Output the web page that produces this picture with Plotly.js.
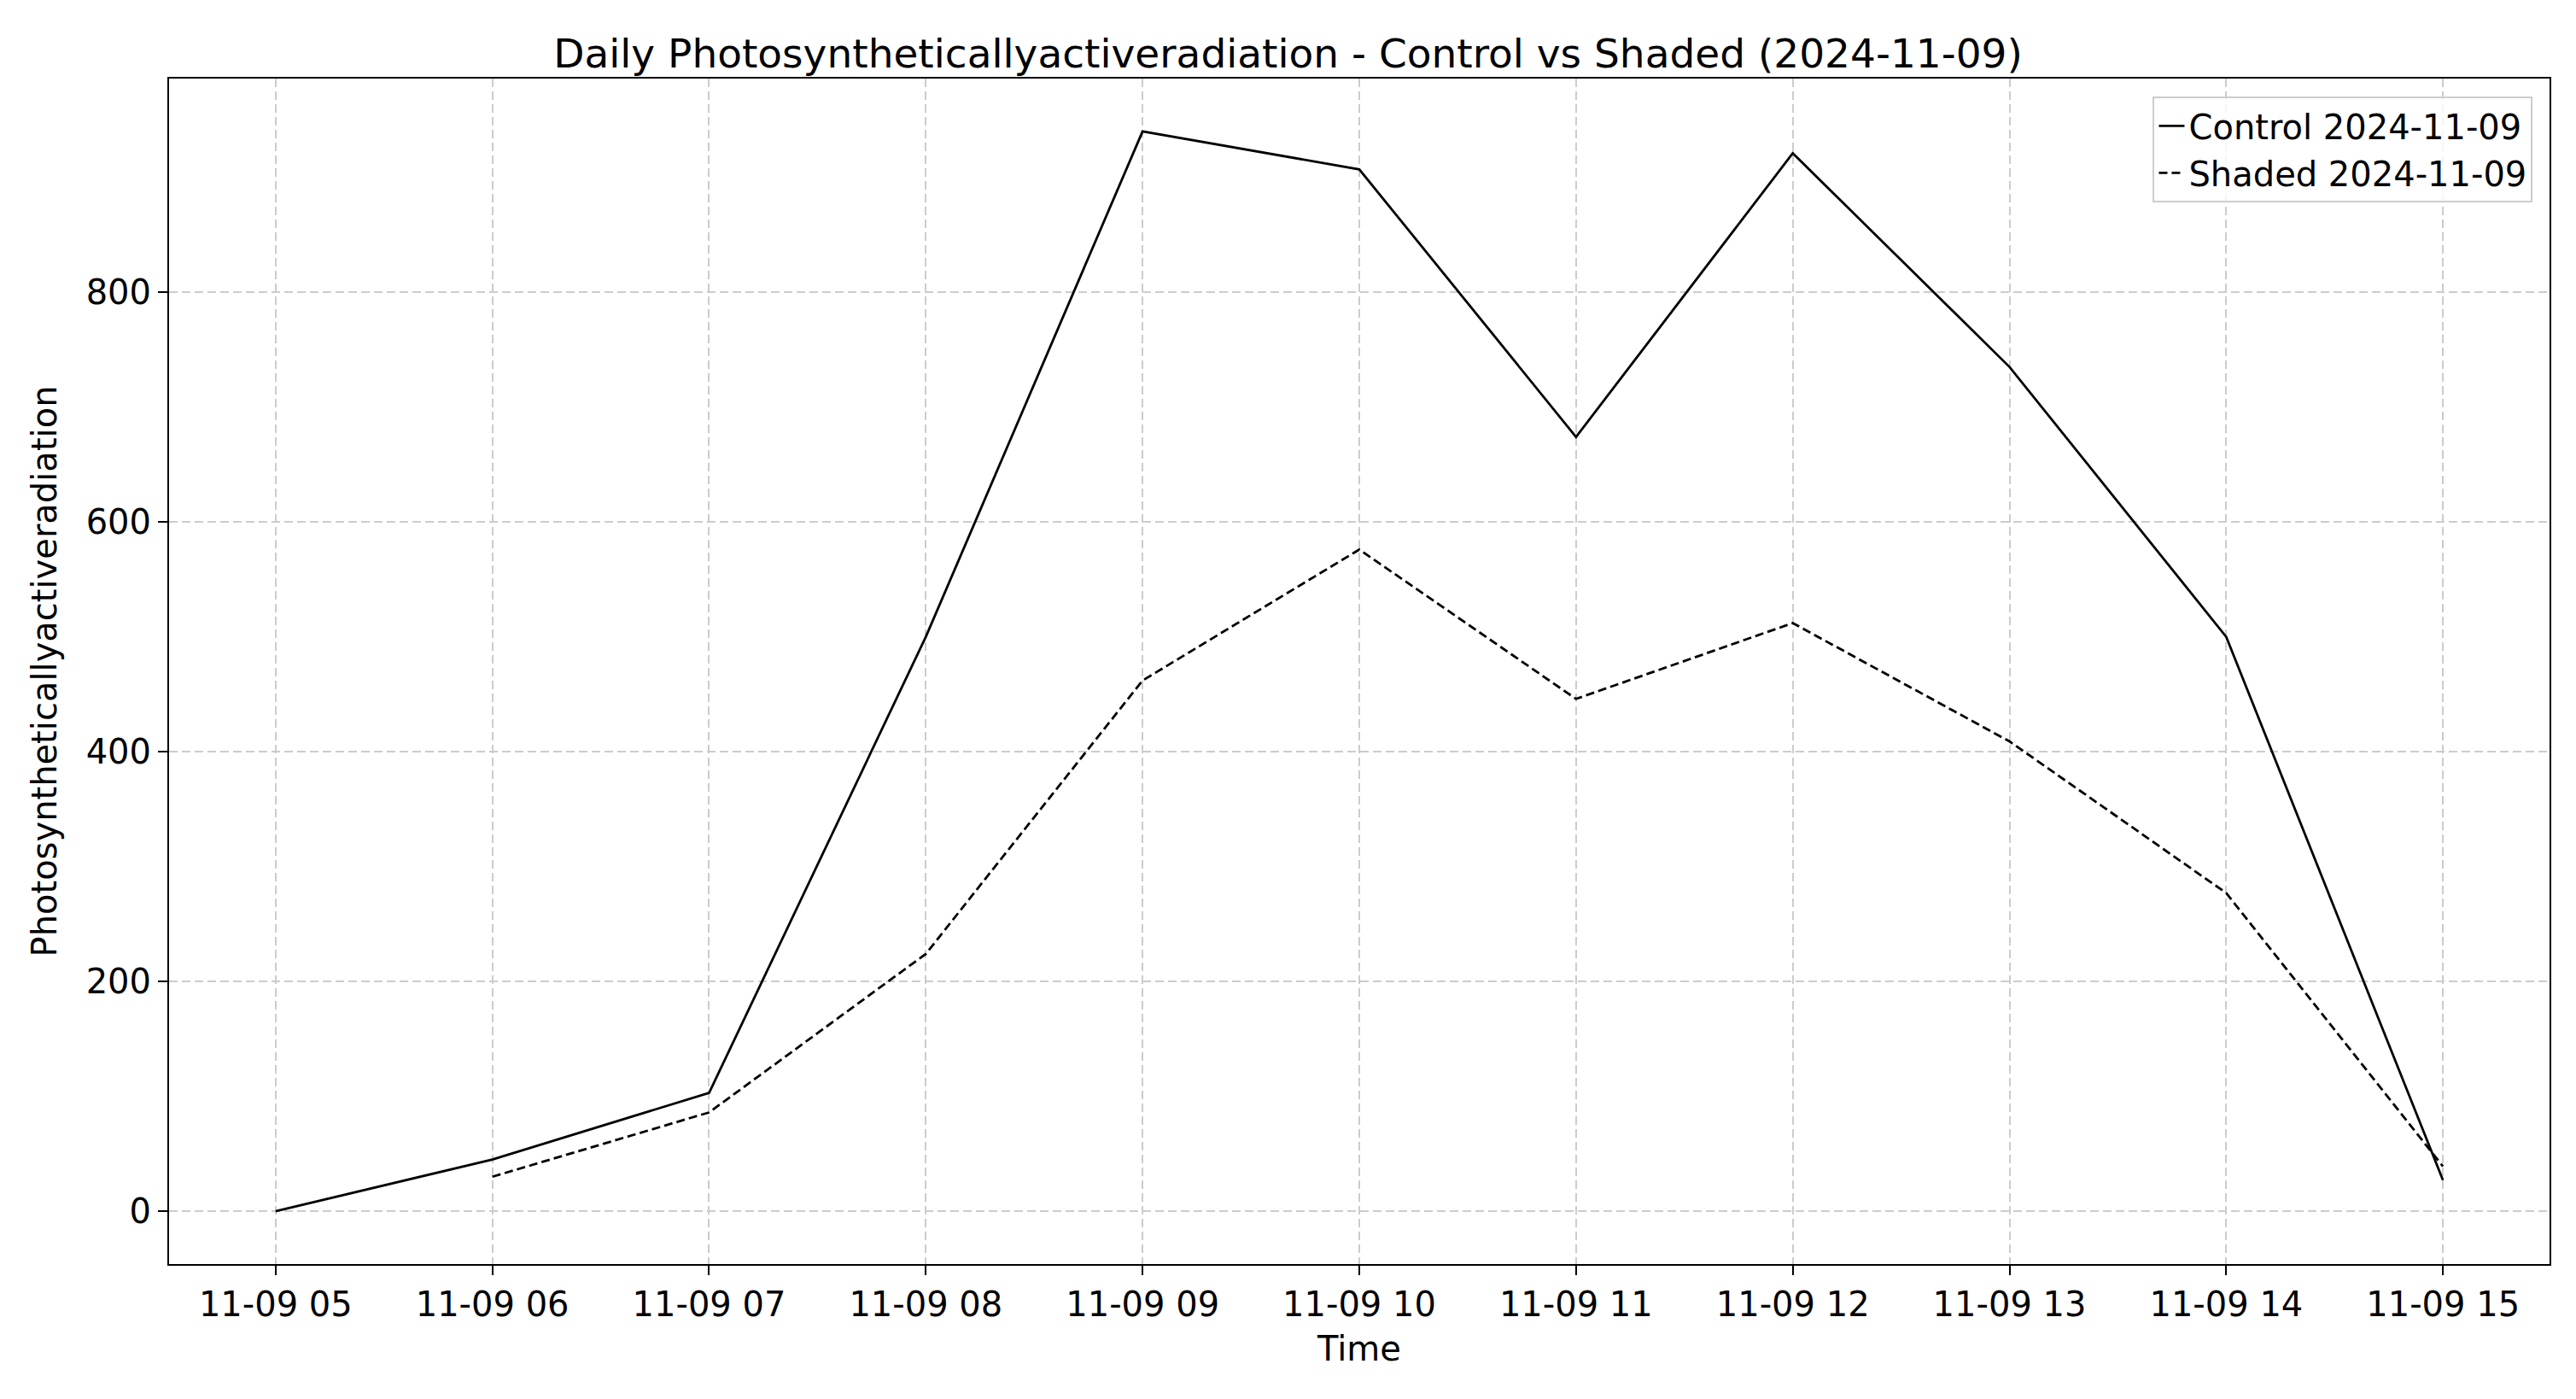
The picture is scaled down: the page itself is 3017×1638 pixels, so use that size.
<!DOCTYPE html>
<html>
<head>
<meta charset="utf-8">
<script src="https://cdn.plot.ly/plotly-3.0.1.min.js"></script>
<style>html,body{margin:0;padding:0;background:#fff}#chart{width:3017px;height:1638px}</style>
</head>
<body>
<div id="chart"></div>
<script>
// данные с графика
const controlTimes = ['2024-11-09 05:00','2024-11-09 06:00','2024-11-09 07:00','2024-11-09 08:00','2024-11-09 09:00','2024-11-09 10:00','2024-11-09 11:00','2024-11-09 12:00','2024-11-09 13:00','2024-11-09 14:00','2024-11-09 15:00'];
const controlValues = [0, 45, 103, 500, 940, 907, 674, 921, 735, 500, 27];
const shadedTimes = controlTimes.slice(1);
const shadedValues = [30, 86, 224, 462, 576, 446, 512, 409, 277, 39];

const F = 'DejaVu Sans, sans-serif';
const FS = 40;

const traces = [
    {x: controlTimes, y: controlValues, mode: 'lines', name: 'Control 2024-11-09',
     line: {color: '#000', width: 2.8}},
    {x: shadedTimes, y: shadedValues, mode: 'lines', name: 'Shaded 2024-11-09',
     line: {color: '#000', width: 2.8, dash: '10px,5px'}}
];

const axisCommon = {
    showline: true, mirror: true, linecolor: '#000', linewidth: 2,
    ticks: 'outside', ticklen: 11, tickwidth: 2, tickcolor: '#000',
    gridcolor: '#cccccc', griddash: '10px,5px', gridwidth: 1.5,
    zeroline: false, tickfont: {family: F, size: FS, color: '#000'}
};

const layout = {
    title: {text: 'Daily Photosyntheticallyactiveradiation - Control vs Shaded (2024-11-09)',
            font: {family: F, size: 47, color: '#000'}, x: 0.5, xanchor: 'center', y: 0.972},
    xaxis: Object.assign({}, axisCommon, {
        type: 'date', range: ['2024-11-09 04:30:30', '2024-11-09 15:29:30'],
        tickvals: controlTimes, tickformat: '%m-%d %H',
        title: {text: 'Time', font: {family: F, size: FS, color: '#000'}, standoff: 16}
    }),
    yaxis: Object.assign({}, axisCommon, {
        range: [-46, 986], tickvals: [0, 200, 400, 600, 800],
        title: {text: 'Photosyntheticallyactiveradiation', font: {family: F, size: FS, color: '#000'}, standoff: 22}
    }),
    legend: {x: 0.993, y: 0.985, xanchor: 'right', yanchor: 'top',
             bgcolor: 'rgba(255,255,255,0.8)', bordercolor: '#cccccc', borderwidth: 2,
             font: {family: F, size: FS, color: '#000'}},
    showlegend: true,
    plot_bgcolor: '#fff', paper_bgcolor: '#fff',
    margin: {l: 198, r: 31, t: 92, b: 158}
};

Plotly.newPlot('chart', traces, layout, {displayModeBar: false});
</script>
</body>
</html>
